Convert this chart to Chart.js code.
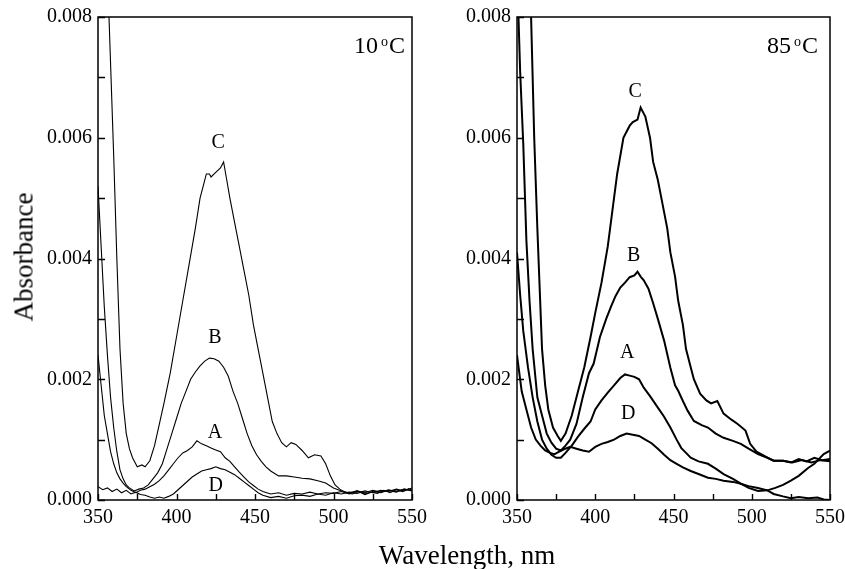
<!DOCTYPE html>
<html>
<head>
<meta charset="utf-8">
<script src="https://cdn.jsdelivr.net/npm/chart.js@4/dist/chart.umd.min.js"></script>
<style>
  body { margin: 0; background: #fff; }
  #wrap { position: relative; width: 845px; height: 569px; overflow: hidden; }
  canvas { position: absolute; top: 0; }
  .title { position: absolute; font-family: "Liberation Serif", "Times New Roman", serif; font-size: 27px; line-height: 1; white-space: nowrap; color: #000; }
  #ytitle { left: 24px; top: 257px; transform: translate(-50%, -50%) rotate(-90deg); }
  #xtitle { left: 467px; top: 542px; transform: translateX(-50%); }
</style>
</head>
<body>
<div id="wrap">
  <canvas id="left" width="430" height="541" style="left:0"></canvas>
  <canvas id="right" width="415" height="541" style="left:430px"></canvas>
  <div class="title" id="ytitle">Absorbance</div>
  <div class="title" id="xtitle">Wavelength, nm</div>
</div>
<script>
// ticks
const X_MINOR = [350, 375, 400, 425, 450, 475, 500, 525, 550];
const X_LABELS = [350, 400, 450, 500, 550];
const Y_MINOR = [0, 0.001, 0.002, 0.003, 0.004, 0.005, 0.006, 0.007, 0.008];
const Y_LABELS = [0, 0.002, 0.004, 0.006, 0.008];

// 10 oC
const WL_10_C = [352, 355, 357, 360, 362, 364, 366, 368, 370, 372, 375, 378, 380, 383, 386, 389, 392, 396, 400, 404, 408, 412, 415, 417, 419, 421, 422, 424, 426, 428, 430, 432, 434, 437, 440, 443, 446, 449, 452, 455, 458, 461, 464, 467, 470, 473, 476, 480, 484, 488, 492, 495, 498, 501, 504, 508, 512, 516, 520, 524, 528, 532, 536, 540, 544, 548, 550];
const ABS_10_C = [0.0125, 0.0095, 0.0080, 0.0057, 0.0040, 0.0025, 0.0016, 0.0011, 0.00085, 0.0007, 0.00055, 0.00058, 0.00055, 0.00065, 0.0009, 0.00125, 0.0016, 0.0021, 0.0027, 0.0033, 0.0039, 0.0045, 0.0050, 0.0052, 0.0054, 0.0054, 0.00535, 0.0054, 0.00545, 0.0055, 0.0056, 0.0053, 0.0050, 0.0046, 0.0042, 0.0038, 0.0034, 0.0029, 0.0025, 0.0021, 0.0017, 0.0013, 0.0011, 0.00095, 0.00088, 0.00095, 0.00092, 0.00082, 0.0007, 0.00075, 0.00073, 0.0006, 0.0004, 0.00025, 0.00018, 0.00012, 0.0001, 0.00014, 0.00009, 0.00013, 0.00011, 0.00016, 0.00012, 0.00017, 0.00014, 0.00019, 0.00016];

const WL_10_B = [350, 352, 354, 356, 358, 360, 362, 364, 366, 368, 370, 373, 376, 379, 382, 385, 388, 391, 394, 397, 400, 403, 406, 409, 412, 415, 418, 421, 424, 427, 430, 433, 436, 439, 442, 445, 448, 451, 454, 457, 460, 465, 470, 475, 480, 485, 490, 495, 500, 505, 510, 515, 520, 525, 530, 535, 540, 545, 550];
const ABS_10_B = [0.0052, 0.0042, 0.0032, 0.0024, 0.0017, 0.0012, 0.0008, 0.0005, 0.00035, 0.00025, 0.0002, 0.00015, 0.00018, 0.0002, 0.00025, 0.00035, 0.00045, 0.0006, 0.00085, 0.0011, 0.00135, 0.0016, 0.0018, 0.002, 0.00212, 0.00222, 0.0023, 0.00235, 0.00234, 0.0023, 0.0022, 0.00205, 0.0018, 0.0016, 0.00135, 0.0011, 0.0009, 0.00075, 0.00064, 0.00055, 0.00048, 0.0004, 0.0004, 0.00038, 0.00036, 0.00035, 0.00032, 0.00028, 0.0002, 0.00015, 0.00012, 0.00015, 0.0001, 0.00014, 0.00012, 0.00016, 0.00013, 0.00018, 0.00015];

const WL_10_A = [350, 352, 354, 356, 358, 360, 362, 364, 366, 368, 371, 374, 377, 380, 383, 386, 389, 392, 395, 398, 401, 404, 407, 410, 413, 416, 419, 422, 425, 428, 431, 434, 437, 440, 443, 446, 449, 452, 455, 460, 465, 470, 475, 480, 485, 490, 495, 500, 505, 510, 515, 520, 525, 530, 535, 540, 545, 550];
const ABS_10_A = [0.0024, 0.0019, 0.0014, 0.0011, 0.0008, 0.0006, 0.00045, 0.00035, 0.00028, 0.00022, 0.00016, 0.00012, 0.00016, 0.00018, 0.00022, 0.00026, 0.00032, 0.0004, 0.0005, 0.0006, 0.0007, 0.00078, 0.00082, 0.00088, 0.00098, 0.00093, 0.0009, 0.00086, 0.00083, 0.0008, 0.0007, 0.00064, 0.00055, 0.00046, 0.00038, 0.0003, 0.00024, 0.00018, 0.00014, 0.0001, 0.00012, 0.00008, 0.00011, 0.0001, 0.00013, 0.0001, 0.00012, 0.00011, 0.00014, 0.0001, 0.00015, 0.00012, 0.00016, 0.00013, 0.00017, 0.00014, 0.00018, 0.00016];

const WL_10_D = [350, 353, 356, 359, 362, 365, 368, 371, 374, 377, 380, 383, 386, 389, 392, 395, 398, 401, 404, 407, 410, 413, 416, 419, 422, 425, 428, 431, 434, 437, 440, 443, 446, 449, 452, 455, 460, 465, 470, 475, 480, 485, 490, 495, 500, 505, 510, 515, 520, 525, 530, 535, 540, 545, 550];
const ABS_10_D = [0.00022, 0.00017, 0.0002, 0.00014, 0.00018, 0.00012, 0.00016, 0.0001, 0.00013, 0.00009, 0.00008, 0.00005, 0.00003, 0.00005, 0.00003, 0.00006, 0.0001, 0.00017, 0.00024, 0.00031, 0.00038, 0.00043, 0.00048, 0.0005, 0.00052, 0.00055, 0.00052, 0.0005, 0.00046, 0.00042, 0.00036, 0.0003, 0.00024, 0.00018, 0.00012, 0.00008, 0.00004, 0.00006, 0.00003, 0.00007, 0.00008, 0.00006, 0.0001, 0.00008, 0.00012, 0.0001, 0.00013, 0.00011, 0.00015, 0.00012, 0.00016, 0.00014, 0.00018, 0.00015, 0.0002];

// 85 oC
const WL_85_C = [354, 356, 359, 361, 363, 366, 368, 370, 373, 376, 378, 381, 385, 389, 393, 397, 400, 404, 408, 411, 414, 418, 422, 424, 427, 429, 431, 432, 435, 437, 440, 443, 446, 448, 451, 453, 456, 458, 461, 463, 467, 471, 474, 478, 482, 487, 491, 496, 499, 503, 506, 510, 514, 520, 525, 530, 535, 540, 545, 550];
const ABS_85_C = [0.0125, 0.0105, 0.0080, 0.0060, 0.0045, 0.0025, 0.0019, 0.0015, 0.0012, 0.00106, 0.00098, 0.0011, 0.0014, 0.0018, 0.0022, 0.0027, 0.0031, 0.0036, 0.0042, 0.0048, 0.0054, 0.0060, 0.0062, 0.00626, 0.0063, 0.0065, 0.0064, 0.00635, 0.006, 0.0056, 0.0053, 0.0049, 0.0045, 0.0041, 0.0037, 0.0033, 0.0029, 0.0025, 0.0022, 0.002, 0.00176, 0.00165, 0.0016, 0.00164, 0.00143, 0.00133, 0.00126, 0.00115, 0.00093, 0.0008, 0.00076, 0.0007, 0.00065, 0.00065, 0.00062, 0.00068, 0.00064, 0.0007, 0.00066, 0.00068];

const WL_85_B = [350, 352, 354, 356, 358, 360, 363, 366, 369, 372, 375, 378, 381, 384, 388, 392, 396, 399, 403, 407, 410, 413, 416, 419, 422, 425, 427, 429, 431, 434, 437, 440, 444, 448, 451, 453, 456, 459, 463, 468, 472, 477, 482, 488, 493, 498, 504, 510, 514, 520, 526, 532, 538, 544, 550];
const ABS_85_B = [0.0088, 0.0071, 0.0059, 0.0043, 0.0033, 0.0025, 0.0017, 0.0014, 0.0011, 0.00095, 0.00085, 0.00082, 0.0009, 0.001, 0.00126, 0.0017, 0.0021, 0.00226, 0.0027, 0.003, 0.0032, 0.00338, 0.00352, 0.0036, 0.00369, 0.00372, 0.00378, 0.0037, 0.00364, 0.0035, 0.00326, 0.003, 0.00264, 0.00219, 0.0019, 0.00181, 0.00164, 0.00148, 0.00131, 0.00124, 0.0012, 0.0011, 0.00103, 0.00098, 0.00093, 0.00085, 0.00076, 0.0007, 0.00065, 0.00065, 0.00062, 0.00066, 0.00062, 0.00066, 0.00064];

const WL_85_A = [350, 352, 354, 357, 360, 363, 366, 369, 372, 375, 378, 381, 385, 389, 393, 397, 400, 404, 408, 412, 416, 419, 422, 425, 428, 431, 435, 440, 444, 448, 452, 455, 458, 461, 466, 472, 477, 482, 488, 493, 498, 504, 510, 515, 520, 525, 530, 536, 540, 546, 550];
const ABS_85_A = [0.0041, 0.0034, 0.0028, 0.0022, 0.0017, 0.0013, 0.001, 0.00085, 0.00075, 0.0007, 0.0007, 0.00078, 0.0009, 0.00105, 0.00118, 0.0013, 0.0015, 0.00165, 0.00178, 0.0019, 0.00202, 0.00208, 0.00206, 0.00204, 0.002, 0.00186, 0.00172, 0.00153, 0.00138, 0.0012, 0.001, 0.00086, 0.00078, 0.0007, 0.00064, 0.0006, 0.00052, 0.00043, 0.00035, 0.00027, 0.0002, 0.00015, 0.00016, 0.0002, 0.00025, 0.00032, 0.0004, 0.00053, 0.0006, 0.00076, 0.00082];

const WL_85_D = [350, 353, 356, 359, 362, 365, 368, 371, 374, 377, 380, 384, 388, 392, 396, 400, 404, 408, 412, 416, 420, 424, 428, 432, 436, 440, 444, 448, 452, 456, 461, 466, 472, 477, 482, 488, 493, 498, 504, 510, 514, 520, 525, 530, 536, 542, 546, 550];
const ABS_85_D = [0.0024, 0.0018, 0.0015, 0.0012, 0.001, 0.0009, 0.00082, 0.00078, 0.00076, 0.0008, 0.00084, 0.00088, 0.00085, 0.00082, 0.0008, 0.00088, 0.00093, 0.00096, 0.001, 0.00106, 0.0011, 0.00108, 0.00106, 0.001, 0.00094, 0.00085, 0.00075, 0.00066, 0.0006, 0.00054, 0.00048, 0.00043, 0.00037, 0.00035, 0.00032, 0.0003, 0.00027, 0.00023, 0.0002, 0.00016, 0.0001, 0.00006, 0.00003, 0.00005, 0.00003, 0.00004, 0.00001, 0];

// curve letters and where they sit (wavelength, absorbance)
const CURVE_NAMES = ['C', 'B', 'A', 'D'];
const NAME_X_10 = [426.5, 424.5, 424.5, 425];
const NAME_Y_10 = [0.00592, 0.00268, 0.00111, 0.00023];
const NAME_X_85 = [425.5, 424.5, 420.5, 421];
const NAME_Y_85 = [0.00676, 0.00405, 0.00244, 0.00143];

const SERIF = '"Liberation Serif", "Times New Roman", serif';

function pts(wl, ab) {
    return wl.map((w, i) => ({ x: w, y: ab[i] }));
}

// frame, inward ticks, curve letters and temperature label
const framePlugin = {
    id: 'frame',
    afterDatasetsDraw(chart, args, opts) {
        const { ctx, chartArea: a, scales } = chart;
        const x = scales.x, y = scales.y;
        ctx.save();
        ctx.strokeStyle = '#000';
        ctx.lineWidth = 1.5;
        ctx.strokeRect(a.left, a.top, a.right - a.left, a.bottom - a.top);
        ctx.lineWidth = 1.4;
        ctx.beginPath();
        X_MINOR.forEach(v => {
            const px = Math.round(x.getPixelForValue(v)) + 0.5;
            ctx.moveTo(px, a.bottom);
            ctx.lineTo(px, a.bottom - 6);
        });
        Y_MINOR.forEach(v => {
            const py = Math.round(y.getPixelForValue(v)) + 0.5;
            ctx.moveTo(a.left, py);
            ctx.lineTo(a.left + 7, py);
        });
        ctx.stroke();

        ctx.fillStyle = '#000';
        ctx.font = '20px ' + SERIF;
        ctx.textAlign = 'center';
        ctx.textBaseline = 'middle';
        CURVE_NAMES.forEach((n, i) => {
            ctx.fillText(n, x.getPixelForValue(opts.nx[i]), y.getPixelForValue(opts.ny[i]));
        });

        // "10 oC" with raised o
        const right = a.right - opts.titleRight;
        const base = a.top + 36;
        ctx.textAlign = 'right';
        ctx.textBaseline = 'alphabetic';
        ctx.font = '24px ' + SERIF;
        ctx.fillText('C', right, base);
        const wC = ctx.measureText('C').width;
        ctx.font = '14px ' + SERIF;
        ctx.fillText('o', right - wC - 1, base - 7);
        const wO = ctx.measureText('o').width;
        ctx.font = '24px ' + SERIF;
        ctx.fillText(opts.temp, right - wC - wO - 4, base);
        ctx.restore();
    }
};

function makeChart(id, sets, yWidth, padRight, lineW, nx, ny, temp, titleRight) {
    const ctx = document.getElementById(id).getContext('2d');
    return new Chart(ctx, {
        type: 'line',
        data: {
            datasets: sets.map(s => ({
                data: s,
                borderColor: '#000',
                borderWidth: lineW,
                pointRadius: 0,
                fill: false,
                tension: 0,
            })),
        },
        options: {
            responsive: false,
            animation: false,
            devicePixelRatio: 1,
            layout: { padding: { left: 0, top: 17, right: padRight, bottom: 0 } },
            plugins: {
                legend: { display: false },
                tooltip: { enabled: false },
                frame: { nx, ny, temp, titleRight },
            },
            scales: {
                x: {
                    type: 'linear',
                    min: 350,
                    max: 550,
                    grid: { display: false, drawTicks: false },
                    border: { display: false },
                    afterBuildTicks: s => { s.ticks = X_MINOR.map(v => ({ value: v })); },
                    afterFit: s => { s.height = 41; s.paddingLeft = 0; s.paddingRight = 0; },
                    ticks: {
                        autoSkip: false,
                        maxRotation: 0,
                        padding: 6,
                        color: '#000',
                        font: { family: SERIF, size: 20 },
                        callback: v => X_LABELS.includes(v) ? String(v) : '',
                    },
                },
                y: {
                    min: 0,
                    max: 0.008,
                    grid: { display: false, drawTicks: false },
                    border: { display: false },
                    afterBuildTicks: s => { s.ticks = Y_MINOR.map(v => ({ value: v })); },
                    afterFit: s => { s.width = yWidth; s.paddingTop = 0; s.paddingBottom = 0; },
                    ticks: {
                        autoSkip: false,
                        padding: 6,
                        color: '#000',
                        font: { family: SERIF, size: 20 },
                        callback: v => Y_LABELS.includes(v) ? v.toFixed(3) : '',
                    },
                },
            },
        },
        plugins: [framePlugin],
    });
}

makeChart('left',
    [pts(WL_10_C, ABS_10_C), pts(WL_10_B, ABS_10_B), pts(WL_10_A, ABS_10_A), pts(WL_10_D, ABS_10_D)],
    98, 18, 1.1, NAME_X_10, NAME_Y_10, '10', 7);

makeChart('right',
    [pts(WL_85_C, ABS_85_C), pts(WL_85_B, ABS_85_B), pts(WL_85_A, ABS_85_A), pts(WL_85_D, ABS_85_D)],
    87, 15, 2, NAME_X_85, NAME_Y_85, '85', 12);
</script>
</body>
</html>
